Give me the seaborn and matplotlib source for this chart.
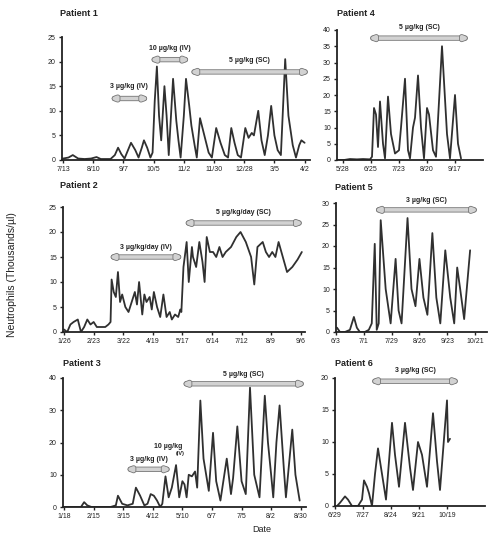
import matplotlib
matplotlib.use("Agg")
import matplotlib.pyplot as plt
import matplotlib.patheffects as pe
import seaborn as sns

sns.set_style("ticks")
plt.rcParams['font.family'] = ['Liberation Sans', 'DejaVu Sans']

# days since first tick, neutrophils (thousands/ul)
p1_day = [0, 5, 9, 14, 20, 26, 31, 35, 44, 48, 51, 54, 57, 63, 67, 70, 73, 75, 78, 81,
          83, 85, 87, 89, 91, 94, 96, 98, 102, 105, 107, 109, 112, 114, 117, 119, 122,
          124, 127, 131, 135, 138, 142, 146, 150, 153, 156, 159, 162, 165, 169, 172,
          175, 177, 181, 184, 187, 190, 193, 196, 199, 202, 206, 209, 213, 216, 219,
          221, 224]
p1_val = [0.3, 0.5, 1.0, 0.3, 0.2, 0.3, 0.6, 0.2, 0.2, 1.0, 2.5, 1.2, 0.3, 3.5, 2.0,
          0.5, 2.5, 4.0, 2.5, 0.5, 1.5, 12, 19, 9, 4, 15, 9, 1, 16.5, 8, 4, 0.5, 9,
          16.5, 11, 7, 3, 0.5, 8.5, 5, 1.5, 0.5, 6.5, 3.5, 1, 0.5, 6.5, 3.5, 1, 0.5,
          6.5, 4.5, 5.5, 5, 10, 4, 1, 5, 11, 5, 2, 1, 20.5, 9, 3, 0.5, 3, 4, 3.5]
p1_ticks = ['7/13', '8/10', '9/7', '10/5', '11/2', '11/30', '12/28', '3/5', '4/2']

p4_day = [-5, 1, 7, 14, 20, 27, 29, 31, 33, 35, 37, 40, 42, 45, 48, 52, 56, 58, 62, 65,
          67, 70, 72, 75, 78, 81, 84, 86, 90, 93, 99, 104, 107, 112, 115, 118]
p4_val = [0, 0, 0.3, 0.2, 0.3, 0.2, 1, 16, 14, 4, 18, 5, 0.5, 19.5, 8, 2, 3, 10, 25, 3,
          0.5, 10, 13, 26, 10, 0.5, 16, 14, 3, 1, 35, 8, 0.5, 20, 5, 0.5]
p4_ticks = ['5/28', '6/25', '7/23', '8/20', '9/17']

p2_day = [0, 3, 6, 9, 13, 16, 19, 22, 25, 28, 31, 34, 39, 42, 44, 45, 47, 49, 51, 53,
          55, 58, 61, 64, 67, 69, 71, 74, 76, 78, 81, 83, 85, 88, 91, 94, 97, 100, 102,
          105, 108, 110, 111, 113, 116, 118, 121, 122, 125, 128, 131, 133, 135, 138,
          141, 144, 147, 150, 153, 158, 163, 167, 172, 177, 180, 183, 188, 191, 194,
          197, 200, 203, 207, 211, 216, 221, 225]
p2_val = [0.5, 0, 1.5, 2, 2.5, 0, 1, 2.5, 1.5, 2, 1, 1, 1, 1.5, 2, 10.5, 8, 7, 12, 6,
          7.5, 5, 4, 6, 8, 5.5, 10, 3.5, 7.5, 6, 7, 4.5, 8, 5, 3, 7.5, 3, 4, 2.5, 3.5,
          3, 4.5, 4, 13, 18, 10, 17, 15, 13, 18, 14, 10, 19, 16, 16, 15, 17, 15, 16,
          17, 19, 20, 18, 15, 9.5, 17, 18, 16, 15, 16, 15, 18, 15, 12, 13, 14.5, 16]
p2_ticks = ['1/26', '2/23', '3/22', '4/19', '5/17', '6/14', '7/12', '8/9', '9/6']

p5_day = [1, 4, 9, 14, 18, 21, 24, 29, 33, 36, 39, 41, 43, 45, 50, 55, 60, 63, 66, 72,
          76, 80, 84, 88, 92, 97, 101, 105, 110, 115, 119, 122, 125, 129, 135]
p5_val = [1, 0, 0, 0.5, 3.5, 1, 0, 0, 0.5, 2, 20.5, 0.5, 2, 26, 10, 2, 17, 5, 2, 26.5,
          10, 6, 17, 8, 4, 23, 8, 2, 19, 8, 2, 15, 10, 3, 19]
p5_ticks = ['6/3', '7/1', '7/29', '8/26', '9/23', '10/21']

p3_day = [0, 16, 19, 22, 26, 44, 49, 51, 55, 60, 65, 68, 72, 76, 79, 82, 85, 88, 91,
          93, 96, 99, 102, 106, 109, 112, 114, 116, 118, 121, 124, 126, 129, 132, 137,
          141, 144, 148, 154, 158, 160, 164, 168, 172, 176, 180, 185, 190, 193, 196,
          198, 201, 204, 208, 210, 216, 219, 223]
p3_val = [0, 0, 1.5, 0.5, 0, 0, 0.5, 3.5, 1, 0.5, 1, 6, 3.5, 0.5, 1, 4, 3.5, 2, 0, 1,
          9.5, 3, 6, 13, 3, 8, 7, 3, 10, 9.5, 11, 6, 33, 15, 5, 23, 8, 2, 15, 4, 9, 25,
          8, 4, 37, 10, 3, 34.5, 20, 10, 3, 20, 31.5, 12, 3, 24, 10, 2]
p3_ticks = ['1/18', '2/15', '3/15', '4/12', '5/10', '6/7', '7/5', '8/2', '8/30']

p6_day = [2, 5, 10, 13, 17, 23, 27, 29, 32, 34, 37, 40, 43, 47, 51, 57, 60, 64, 70, 75,
          78, 83, 87, 92, 98, 102, 105, 112, 113, 115]
p6_val = [0, 0.5, 1.5, 1, 0, 0, 1, 4, 3, 2, 0, 5, 9, 5, 1, 13, 8, 3, 13, 6, 2.5, 10, 8,
          3, 14.5, 7, 2.5, 16.5, 10, 10.5]
p6_ticks = ['6/29', '7/27', '8/24', '9/21', '10/19']

# treatment periods: (start day, end day, label)
p1_tx = [(43, 80, '3 µg/kg (IV)'), (80, 118, '10 µg/kg (IV)'), (117, 229, '5 µg/kg (SC)')]
p4_tx = [(25, 127, '5 µg/kg (SC)')]
p2_tx = [(42, 113, '3 µg/kg/day (IV)'), (113, 227, '5 µg/kg/day (SC)')]
p5_tx = [(38, 144, '3 µg/kg (SC)')]
p3_tx = [(58, 102, '3 µg/kg (IV)'), (111, 229, '5 µg/kg (SC)')]
p6_tx = [(35, 125, '3 µg/kg (SC)')]

W, H = 489, 540
fig = plt.figure(figsize=(W / 100, H / 100), dpi=100)

def box(l, t, r, b):
    return [l / W, 1 - b / H, (r - l) / W, (b - t) / H]

LINE = '#303030'

def panel(rect, title, tpos, days, vals, labels, ymax, ystep, xlim, tx, bar_y, txt_y):
    ax = fig.add_axes(box(*rect))
    sns.lineplot(x=days, y=vals, ax=ax, color=LINE, lw=1.3, estimator=None, sort=False)
    ax.set_xlim(*xlim)
    ax.set_ylim(0, ymax)
    ax.set_yticks(range(0, ymax + 1, ystep))
    ax.set_xticks([28 * i for i in range(len(labels))])
    ax.set_xticklabels(labels)
    ax.tick_params(labelsize=5, length=2.5, width=1, pad=2, colors='#222')
    for s in ['left', 'bottom']:
        ax.spines[s].set_linewidth(1.3)
        ax.spines[s].set_color('#222')
    sns.despine(ax=ax)
    ax.margins(0)
    fig.text(tpos[0] / W, 1 - tpos[1] / H, title, fontsize=6.5, fontweight='bold',
             color='#222', va='center')
    for (a, b, lab), by, ty in zip(tx, bar_y, txt_y):
        ax.annotate('', xy=(a, by), xytext=(b, by), annotation_clip=False,
                    arrowprops=dict(arrowstyle='<|-|>,head_length=0.25,head_width=0.1',
                                    lw=2.6, color='#d2d2d2', shrinkA=0, shrinkB=0,
                                    path_effects=[pe.Stroke(linewidth=3.8, foreground='#777'),
                                                  pe.Normal()]))
        ax.text((a + b) / 2, ty, lab, ha='center', va='center', fontsize=5,
                fontweight='bold', color='#222', clip_on=False)
    ax.set_xlabel('')
    ax.set_ylabel('')
    return ax

panel((62, 37, 310, 160), 'Patient 1', (60, 14), p1_day, p1_val, p1_ticks, 25, 5,
      (-1, 229), p1_tx, [12.5, 20.4, 17.9], [15.0, 22.6, 20.3])
panel((337, 30, 483, 160), 'Patient 4', (337, 14), p4_day, p4_val, p4_ticks, 40, 5,
      (-6, 140), p4_tx, [37.5], [40.8])
panel((63, 207, 305, 332), 'Patient 2', (60, 186), p2_day, p2_val, p2_ticks, 25, 5,
      (-1, 228), p2_tx, [15.0, 21.8], [16.9, 23.8])
panel((336, 203, 487, 332), 'Patient 5', (335, 187), p5_day, p5_val, p5_ticks, 30, 5,
      (0, 152), p5_tx, [28.4], [30.6])
ax3 = panel((63, 378, 306, 507), 'Patient 3', (63, 363), p3_day, p3_val, p3_ticks, 40, 10,
            (-1, 229), p3_tx, [11.7, 38.2], [14.8, 41.0])
ax3.text(99, 18.7, '10 µg/kg', ha='center', va='center', fontsize=5,
         fontweight='bold', color='#222')
ax3.text(110, 16.6, '(IV)', ha='center', va='center', fontsize=4,
         fontweight='bold', color='#222')
panel((335, 378, 485, 506), 'Patient 6', (335, 363), p6_day, p6_val, p6_ticks, 20, 5,
      (0, 150), p6_tx, [19.5], [21.2])

fig.text(12 / W, 1 - 275 / H, 'Neutrophils (Thousands/µl)', rotation=90, fontsize=7.5,
         ha='center', va='center', color='#222')
fig.text(262 / W, 1 - 530 / H, 'Date', fontsize=6.5, ha='center', va='center', color='#222')

fig.savefig('out.png', dpi=100, facecolor='white')
